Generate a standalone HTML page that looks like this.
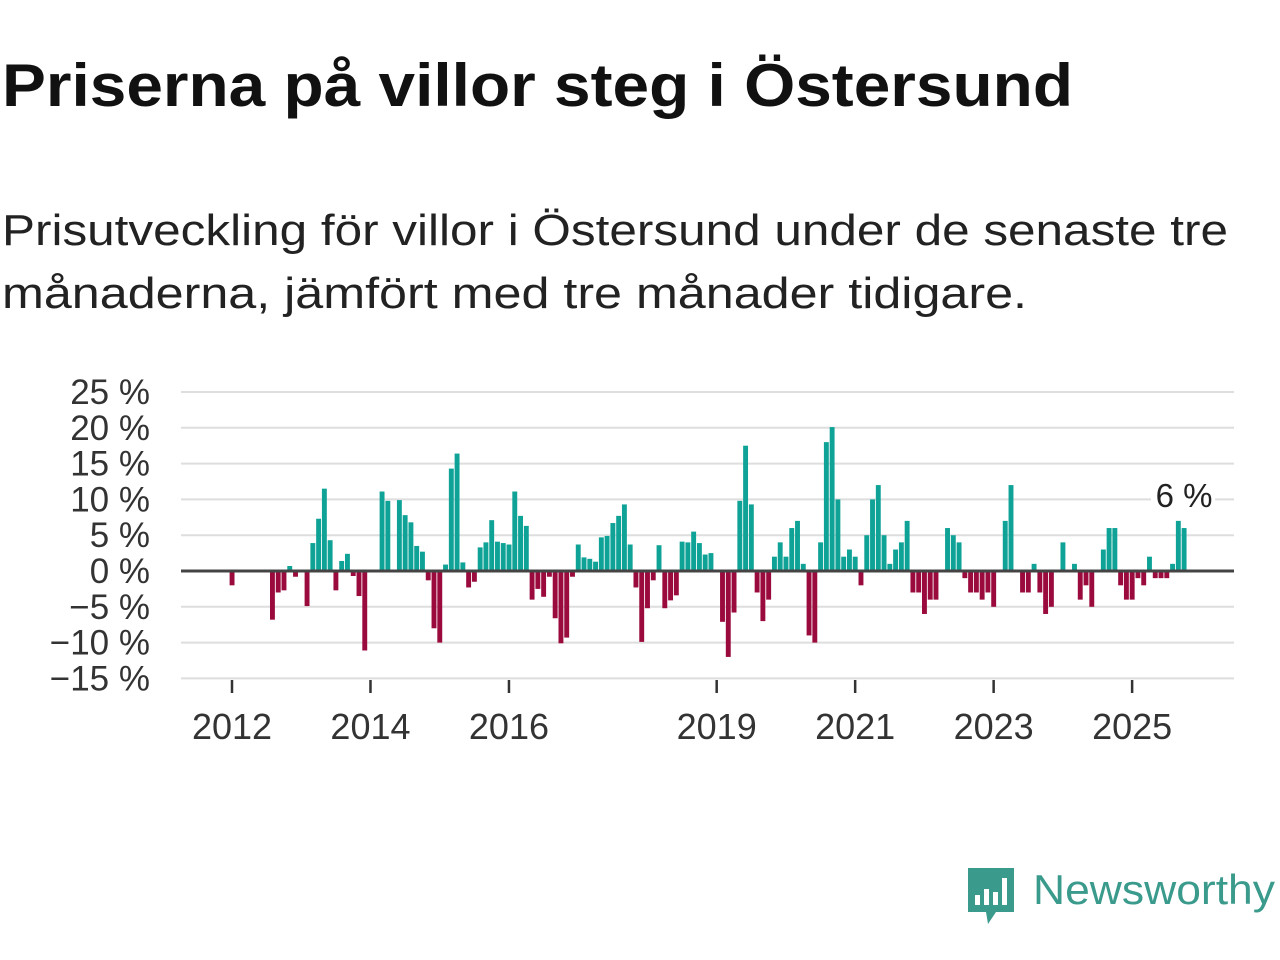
<!DOCTYPE html>
<html><head><meta charset="utf-8"><style>
html,body{margin:0;padding:0;background:#fff;width:1280px;height:960px;overflow:hidden}
svg{display:block}
text{font-family:"Liberation Sans",sans-serif}
</style></head><body>
<svg id="root" width="1280" height="960" viewBox="0 0 1280 960">
<text x="2" y="106" font-size="60" font-weight="bold" fill="#111" textLength="1071" lengthAdjust="spacingAndGlyphs">Priserna på villor steg i Östersund</text>
<text x="2" y="245" font-size="44" fill="#222" textLength="1226" lengthAdjust="spacingAndGlyphs">Prisutveckling för villor i Östersund under de senaste tre</text>
<text x="2" y="308" font-size="44" fill="#222" textLength="1025" lengthAdjust="spacingAndGlyphs">månaderna, jämfört med tre månader tidigare.</text>
<g id="grid"></g>
<g id="yaxis"></g>
<g id="bars"></g>
<line x1="181" x2="1234" y1="571" y2="571" stroke="#444" stroke-width="3"/>
<g id="xaxis"></g>
<g id="annot"></g>
<g>
<path d="M968 868 H1014 V912 H996 L988 924 L986 912 H968 Z" fill="#3a9a8c"/>
<rect x="975" y="895" width="5" height="10" fill="#fff"/>
<rect x="984" y="889" width="5" height="16" fill="#fff"/>
<rect x="993" y="892" width="5" height="13" fill="#fff"/>
<rect x="1002" y="878" width="5" height="27" fill="#fff"/>
<text x="1033" y="904" font-size="42" fill="#3a9a8c" textLength="242" lengthAdjust="spacingAndGlyphs">Newsworthy</text>
</g>
</svg>
<script>
const values = [-2,0,0,0,0,0,0,-6.8,-3,-2.7,0.7,-0.8,
0,-4.9,3.9,7.3,11.5,4.3,-2.7,1.4,2.4,-0.7,-3.5,-11.1,
0,0,11.1,9.8,0,9.9,7.8,6.8,3.5,2.7,-1.3,-8,
-10,0.9,14.3,16.4,1.2,-2.3,-1.5,3.3,4,7.1,4.1,3.9,
3.7,11.1,7.7,6.3,-4,-2.5,-3.6,-0.8,-6.6,-10.1,-9.3,-0.8,
3.7,1.9,1.7,1.3,4.7,4.9,6.7,7.7,9.3,3.7,-2.3,-9.9,
-5.2,-1.3,3.6,-5.2,-4.1,-3.4,4.1,4,5.5,3.9,2.3,2.5,
0,-7.1,-12,-5.8,9.8,17.5,9.3,-3,-7,-4,2,4,
2,6,7,1,-9,-10,4,18,20.1,10,2,3,
2,-2,5,10,12,5,1,3,4,7,-3,-3,
-6,-4,-4,0,6,5,4,-1,-3,-3,-4,-3,
-5,0,7,12,0,-3,-3,1,-3,-6,-5,0,
4,0,1,-4,-2,-5,0,3,6,6,-2,-4,
-4,-1,-2,2,-1,-1,-1,1,7,6];
const yTicks = [25,20,15,10,5,0,-5,-10,-15];
const yTickLabels = ["25 %","20 %","15 %","10 %","5 %","0 %","−5 %","−10 %","−15 %"];
const xTickYears = [2012,2014,2016,2019,2021,2023,2025];
const startYear = 2012;
const annotationLabel = "6 %";

const NS="http://www.w3.org/2000/svg";
function yScale(v){return 571 - v*7.16;}
function xScale(i){return 232 + i*5.77;}
function mk(tag,attrs,parent){const e=document.createElementNS(NS,tag);for(const k in attrs)e.setAttribute(k,attrs[k]);parent.appendChild(e);return e;}
const grid=document.getElementById('grid'),yax=document.getElementById('yaxis'),bars=document.getElementById('bars'),xax=document.getElementById('xaxis'),annot=document.getElementById('annot');
yTicks.forEach((t,k)=>{
  if(t!==0){const l=mk('line',{x1:181,x2:1234,y1:yScale(t),y2:yScale(t),stroke:'#dedede','stroke-width':2},grid);
  
  }
  const tx=mk('text',{x:150,y:yScale(t)+12,'font-size':35,fill:'#333','text-anchor':'end'},yax);
  tx.textContent=yTickLabels[k];
  
  
});
values.forEach((v,i)=>{
  if(v===0)return;
  const y0=yScale(0),y1=yScale(v);
  const r=mk('rect',{x:xScale(i)-2.4,y:Math.min(y0,y1),width:4.9,height:Math.abs(y1-y0),fill:v>0?'#0fa296':'#9a0a3d'},bars);
  
  
});
xTickYears.forEach(yr=>{
  const x=xScale((yr-startYear)*12);
  const l=mk('line',{x1:x,x2:x,y1:680,y2:693,stroke:'#333','stroke-width':2.5},xax);
  
  
  const t=mk('text',{x:x,y:739,'font-size':36,fill:'#333','text-anchor':'middle'},xax);
  t.textContent=String(yr);
  
  
});
const li=values.length-1;
const bg=mk('rect',{x:xScale(li)-33,y:478,width:64,height:36,fill:'#fff'},annot);


const at=mk('text',{x:xScale(li),y:507,'font-size':33,fill:'#222','text-anchor':'middle'},annot);
at.textContent=annotationLabel;


</script>
</body></html>
